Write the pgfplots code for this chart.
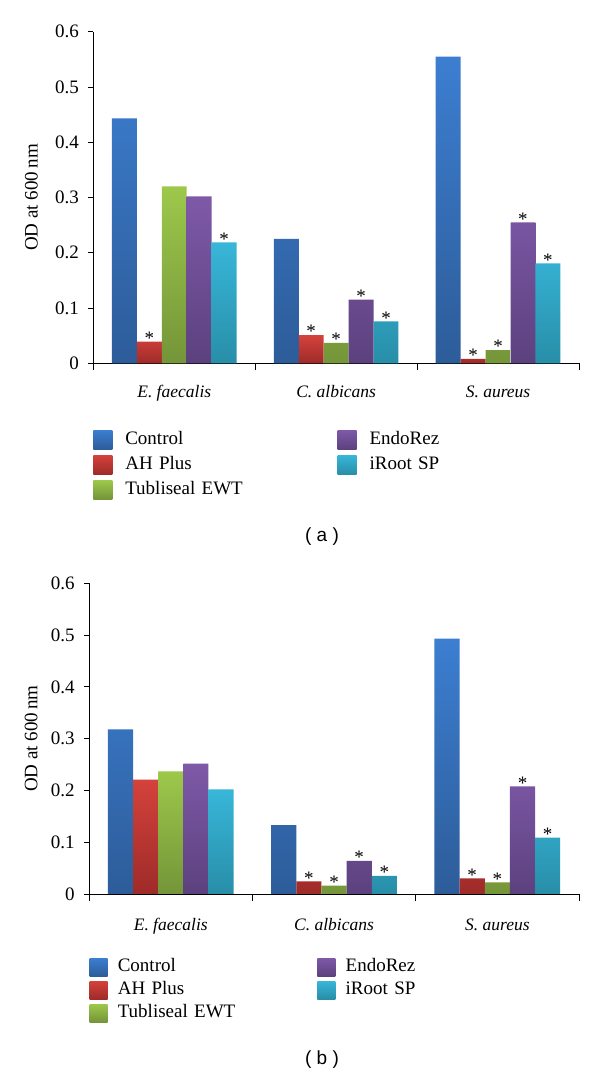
\documentclass[border=0pt]{standalone}
\usepackage{fontspec}
\setmainfont{Liberation Serif}
\newfontfamily\capfont{Liberation Sans}
\usepackage{pgfplots}
\pgfplotsset{compat=1.18}
\usepackage{pgfplotstable}

\definecolor{c1t}{HTML}{3C7ED1}\definecolor{c1b}{HTML}{2D5C99}
\definecolor{c2t}{HTML}{D4423C}\definecolor{c2b}{HTML}{9E2B29}
\definecolor{c3t}{HTML}{9DC84B}\definecolor{c3b}{HTML}{749539}
\definecolor{c4t}{HTML}{7E59A8}\definecolor{c4b}{HTML}{5C417E}
\definecolor{c5t}{HTML}{38B6D9}\definecolor{c5b}{HTML}{288EA8}

% panel (a)
\pgfplotstableread{
x ctl ah sah tub stub endo sendo iroot siroot
0 0.443 0.039 * 0.320 {} 0.302 {} 0.219 *
1 0.225 0.051 * 0.037 * 0.115 * 0.076 *
2 0.555 0.008 * 0.024 * 0.255 * 0.181 *
}\dataA
% panel (b)
\pgfplotstableread{
x ctl ah sah tub stub endo sendo iroot siroot
0 0.318 0.221 {} 0.237 {} 0.252 {} 0.202 {}
1 0.133 0.0245 * 0.016 * 0.064 * 0.035 *
2 0.493 0.030 * 0.0225 * 0.208 * 0.109 *
}\dataB

\newcommand\bigfont{\fontsize{19}{22}\selectfont}
\newcommand\catfont{\fontsize{17.5}{20}\selectfont}

\pgfplotsset{
  odchart/.style={
    scale only axis,
    anchor=south west,
    ybar=0pt,
    bar width=0.154,
    xmin=-0.5, xmax=2.5,
    ymin=0, ymax=0.6,
    axis x line*=bottom,
    axis y line*=left,
    axis line style={black, line width=0.9pt},
    tick style={black, line width=0.9pt},
    tick align=outside,
    major tick length=5pt,
    minor tick length=7pt,
    xtick={0,1,2},
    xticklabels={\textit{E. faecalis},\textit{C. albicans},\textit{S. aureus}},
    major x tick style={draw=none},
    minor xtick={-0.5,0.5,1.5,2.5},
    ytick={0,0.1,0.2,0.3,0.4,0.5,0.6},
    /pgf/number format/fixed,
    /pgf/number format/precision=1,
    /pgf/number format/assume math mode=true,
    yticklabel style={font=\bigfont},
    xticklabel style={font=\catfont, anchor=base},
    ylabel={OD at 600\,nm},
    legend cell align=left,
    transpose legend,
    legend columns=3,
    legend image code/.code={\path[##1,draw=none] (0pt,-9.5pt) rectangle (19pt,9.5pt);},
    clip=false,
  },
  star/.style={
    point meta=explicit symbolic,
    nodes near coords={\pgfplotspointmeta},
    every node near coord/.append style={font=\bigfont, inner sep=0pt, anchor=south, yshift=-3pt},
  },
  s1/.style={draw=none, top color=c1t, bottom color=c1b},
  s2/.style={draw=none, top color=c2t, bottom color=c2b},
  s3/.style={draw=none, top color=c3t, bottom color=c3b},
  s4/.style={draw=none, top color=c4t, bottom color=c4b},
  s5/.style={draw=none, top color=c5t, bottom color=c5b},
}

\begin{document}
\begin{tikzpicture}
\path[use as bounding box] (0pt,0pt) rectangle (600pt,1074pt);

% ---------- panel (a)
\begin{axis}[odchart,
  at={(93.3pt,710.7pt)}, width=485.7pt, height=331.6pt,
  yticklabel style={xshift=-6pt},
  xticklabel style={yshift=-29.5pt},
  every axis y label/.style={at={([xshift=-62pt]axis description cs:0,0.5)}, rotate=90, anchor=center, font=\bigfont},
  legend style={at={(axis description cs:0,0)}, anchor=north west, yshift=-67pt,
    draw=none, fill=none, inner sep=0pt, outer sep=0pt, row sep=6pt,
    nodes={font=\bigfont, inner sep=0pt, text width=200pt, align=left, text height=13pt, text depth=4pt},
    /tikz/every odd column/.append style={column sep=13pt},
    /tikz/every even column/.append style={column sep=12.3pt}},
]
\addplot[s1] table[x=x, y=ctl] {\dataA};
\addplot[s2, star] table[x=x, y=ah, meta=sah] {\dataA};
\addplot[s3, star] table[x=x, y=tub, meta=stub] {\dataA};
\addplot[s4, star] table[x=x, y=endo, meta=sendo] {\dataA};
\addplot[s5, star] table[x=x, y=iroot, meta=siroot] {\dataA};
\legend{Control, AH Plus, Tubliseal EWT, EndoRez, iRoot SP}
\end{axis}

% ---------- panel (b)
\begin{axis}[odchart,
  at={(89.1pt,180pt)}, width=489.9pt, height=310.7pt,
  yticklabel style={xshift=-6pt},
  xticklabel style={yshift=-31pt},
  every axis y label/.style={at={([xshift=-58pt]axis description cs:0,0.5)}, rotate=90, anchor=center, font=\bigfont},
  legend style={at={(axis description cs:0,0)}, anchor=north west, yshift=-64pt, xshift=0.4pt,
    draw=none, fill=none, inner sep=0pt, outer sep=0pt, row sep=5pt,
    nodes={font=\bigfont, inner sep=0pt, text width=190pt, align=left, text height=13pt, text depth=4pt},
    /tikz/every odd column/.append style={column sep=10.3pt},
    /tikz/every even column/.append style={column sep=9.6pt}},
  legend image code/.code={\path[#1,draw=none] (0pt,-9pt) rectangle (18pt,9pt);},
]
\addplot[s1] table[x=x, y=ctl] {\dataB};
\addplot[s2, star] table[x=x, y=ah, meta=sah] {\dataB};
\addplot[s3, star] table[x=x, y=tub, meta=stub] {\dataB};
\addplot[s4, star] table[x=x, y=endo, meta=sendo] {\dataB};
\addplot[s5, star] table[x=x, y=iroot, meta=siroot] {\dataB};
\legend{Control, AH Plus, Tubliseal EWT, EndoRez, iRoot SP}
\end{axis}

\node[font=\capfont\fontsize{19}{22}\selectfont, anchor=center] at (322pt,537pt) {( a )};
\node[font=\capfont\fontsize{19}{22}\selectfont, anchor=center] at (322pt,14pt) {( b )};
\end{tikzpicture}
\end{document}
